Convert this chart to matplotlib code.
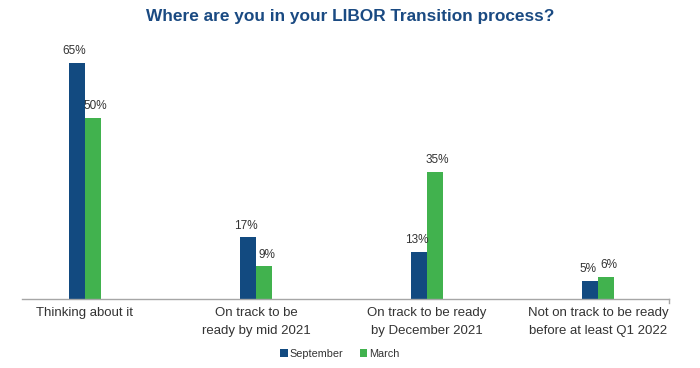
import matplotlib
matplotlib.use("Agg")
import matplotlib.pyplot as plt
import numpy as np

categories = ["Thinking about it", "On track to be\nready by mid 2021",
              "On track to be ready\nby December 2021", "Not on track to be ready\nbefore at least Q1 2022"]
september = [65, 17, 13, 5]
march = [50, 9, 35, 6]
series_names = ["September", "March"]

c_sep = "#124A80"
c_mar = "#41B24E"
txt = "#333333"

plt.rcParams['font.family'] = ['Liberation Sans', 'DejaVu Sans']

fig = plt.figure(figsize=(7.0, 3.68), dpi=100)
W, H = 700, 368
ax = fig.add_axes([22 / W, (H - 299) / H, (669 - 22) / W, (299 - 45) / H])

x = np.arange(len(categories))
bw = 16 / 171
b1 = ax.bar(x - bw / 2, september, bw, color=c_sep, label=series_names[0])
b2 = ax.bar(x + bw / 2, march, bw, color=c_mar, label=series_names[1])

shift = 2.5 / 171
for bars, vals, dx in ((b1, september, -shift), (b2, march, shift)):
    for r, v in zip(bars, vals):
        ax.text(r.get_x() + r.get_width() / 2 + dx, v + 1.6, f"{v}%", ha="center", va="bottom",
                fontsize=8.5, color=txt)

ax.set_xlim(-63 / 171, 3 + 71 / 171)
ax.set_ylim(0, 70)
ax.set_yticks([])
ax.set_xticks(x)
ax.set_xticklabels(categories, fontsize=9.5, color=txt, linespacing=1.65)
ax.tick_params(axis="x", length=0, pad=6)
for s in ("top", "right", "left"):
    ax.spines[s].set_visible(False)
ax.spines["bottom"].set_color("#A6A6A6")
ax.spines["bottom"].set_linewidth(1)
ax.plot([1, 1], [0, -0.015], transform=ax.transAxes, color="#A6A6A6", lw=1, clip_on=False)

fig.text(0.5, (H - 17) / H, "Where are you in your LIBOR Transition process?", ha="center", va="center",
         fontsize=12.4, fontweight="bold", color="#1A4A82")

leg = fig.legend(handles=[b1, b2], labels=series_names, loc="center", bbox_to_anchor=(340 / W, (H - 354) / H),
                 ncol=2, frameon=False, fontsize=7.8, handlelength=0.7, handleheight=0.7,
                 handletextpad=0.2, columnspacing=1.5)
for t in leg.get_texts():
    t.set_color(txt)

fig.savefig("out.png", dpi=100)
